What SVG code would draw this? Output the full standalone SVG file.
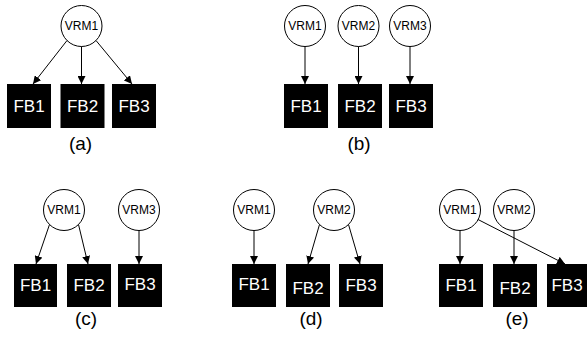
<svg xmlns="http://www.w3.org/2000/svg" width="587" height="337" viewBox="0 0 587 337">
  <style>
    .vrm circle { fill: #ffffff; stroke: #000000; stroke-width: 1; }
    .vrm text { font-family: "Liberation Sans", Arial, sans-serif; font-size: 12px; fill: #000000; text-anchor: middle; }
    .fb rect { fill: #000000; }
    .fb text { font-family: "Liberation Sans", Arial, sans-serif; font-size: 17px; fill: #ffffff; text-anchor: middle; }
    .cap { font-family: "Liberation Sans", Arial, sans-serif; font-size: 19px; fill: #000000; text-anchor: middle; }
    .conn line { stroke: #000000; stroke-width: 1; marker-end: url(#arrow); }
  </style>
  <defs>
    <marker id="arrow" markerUnits="userSpaceOnUse" markerWidth="9" markerHeight="8" refX="8" refY="4" orient="auto">
      <path d="M0,0 L8,4 L0,8 Z" fill="#000000"/>
    </marker>
  </defs>
  <rect width="587" height="337" fill="#ffffff"/>

  <!-- (a) one regulator feeding three blocks -->
  <g id="a-vrm1" class="vrm"><circle cx="81.5" cy="26" r="20.5"/><text x="81.5" y="30">VRM1</text></g>
  <g id="a-fb1" class="fb"><rect x="7" y="84" width="44" height="44"/><text x="29" y="112">FB1</text></g>
  <g id="a-fb2" class="fb"><rect x="60.5" y="84" width="44" height="44"/><text x="82.5" y="112">FB2</text></g>
  <g id="a-fb3" class="fb"><rect x="112" y="84" width="44" height="44"/><text x="134" y="112">FB3</text></g>
  <text class="cap" x="80.5" y="150">(a)</text>

  <!-- (b) one regulator per block -->
  <g id="b-vrm1" class="vrm"><circle cx="305" cy="26" r="20.5"/><text x="305" y="30">VRM1</text></g>
  <g id="b-vrm2" class="vrm"><circle cx="358.5" cy="26" r="20.5"/><text x="358.5" y="30">VRM2</text></g>
  <g id="b-vrm3" class="vrm"><circle cx="410" cy="26" r="20.5"/><text x="410" y="30">VRM3</text></g>
  <g id="b-fb1" class="fb"><rect x="284" y="84" width="44" height="44"/><text x="306" y="112">FB1</text></g>
  <g id="b-fb2" class="fb"><rect x="338" y="84" width="44" height="44"/><text x="360" y="112">FB2</text></g>
  <g id="b-fb3" class="fb"><rect x="389" y="84" width="44" height="44"/><text x="411" y="112">FB3</text></g>
  <text class="cap" x="359" y="150">(b)</text>

  <!-- (c) -->
  <g id="c-vrm1" class="vrm"><circle cx="64" cy="210" r="20.5"/><text x="64" y="214">VRM1</text></g>
  <g id="c-vrm3" class="vrm"><circle cx="139" cy="210" r="20.5"/><text x="139" y="214">VRM3</text></g>
  <g id="c-fb1" class="fb"><rect x="14" y="264" width="43" height="43"/><text x="35.5" y="291">FB1</text></g>
  <g id="c-fb2" class="fb"><rect x="67" y="264" width="44" height="43"/><text x="89" y="291">FB2</text></g>
  <g id="c-fb3" class="fb"><rect x="118" y="264" width="44" height="43"/><text x="140" y="290">FB3</text></g>
  <text class="cap" x="86" y="325">(c)</text>

  <!-- (d) -->
  <g id="d-vrm1" class="vrm"><circle cx="254" cy="210" r="20.5"/><text x="254" y="214">VRM1</text></g>
  <g id="d-vrm2" class="vrm"><circle cx="334" cy="210" r="20.5"/><text x="334" y="214">VRM2</text></g>
  <g id="d-fb1" class="fb"><rect x="232" y="264" width="44" height="43"/><text x="254" y="290">FB1</text></g>
  <g id="d-fb2" class="fb"><rect x="286" y="264" width="44" height="43"/><text x="308" y="294">FB2</text></g>
  <g id="d-fb3" class="fb"><rect x="339" y="264" width="44" height="43"/><text x="361" y="291">FB3</text></g>
  <text class="cap" x="311" y="325">(d)</text>

  <!-- (e) -->
  <g id="e-vrm1" class="vrm"><circle cx="460" cy="210" r="20.5"/><text x="460" y="214">VRM1</text></g>
  <g id="e-vrm2" class="vrm"><circle cx="514" cy="210" r="20.5"/><text x="514" y="214">VRM2</text></g>
  <g id="e-fb1" class="fb"><rect x="439" y="264" width="44" height="43"/><text x="461" y="291">FB1</text></g>
  <g id="e-fb2" class="fb"><rect x="493" y="264" width="44" height="43"/><text x="515" y="294">FB2</text></g>
  <g id="e-fb3" class="fb"><rect x="547" y="264" width="44" height="43"/><text x="567" y="291">FB3</text></g>
  <text class="cap" x="517" y="325">(e)</text>

  <g id="connectors" class="conn">
    <!-- (a) -->
    <line x1="67" y1="40.5" x2="33" y2="84"/>
    <line x1="81.5" y1="46.5" x2="81.5" y2="84"/>
    <line x1="96" y1="40.5" x2="132" y2="84"/>
    <!-- (b) -->
    <line x1="305" y1="46.5" x2="305" y2="84"/>
    <line x1="358.5" y1="46.5" x2="358.5" y2="84"/>
    <line x1="410" y1="46.5" x2="410" y2="84"/>
    <!-- (c) -->
    <line x1="49.5" y1="224.5" x2="36" y2="264"/>
    <line x1="78.5" y1="224.5" x2="88" y2="264"/>
    <line x1="139" y1="230.5" x2="139" y2="264"/>
    <!-- (d) -->
    <line x1="254" y1="230.5" x2="254" y2="264"/>
    <line x1="319.5" y1="224.5" x2="308" y2="264"/>
    <line x1="348.5" y1="224.5" x2="360" y2="264"/>
    <!-- (e) -->
    <line x1="460" y1="230.5" x2="460" y2="264"/>
    <line x1="514" y1="230.5" x2="514" y2="264"/>
    <line x1="478" y1="219.5" x2="565" y2="264"/>
  </g>
</svg>
